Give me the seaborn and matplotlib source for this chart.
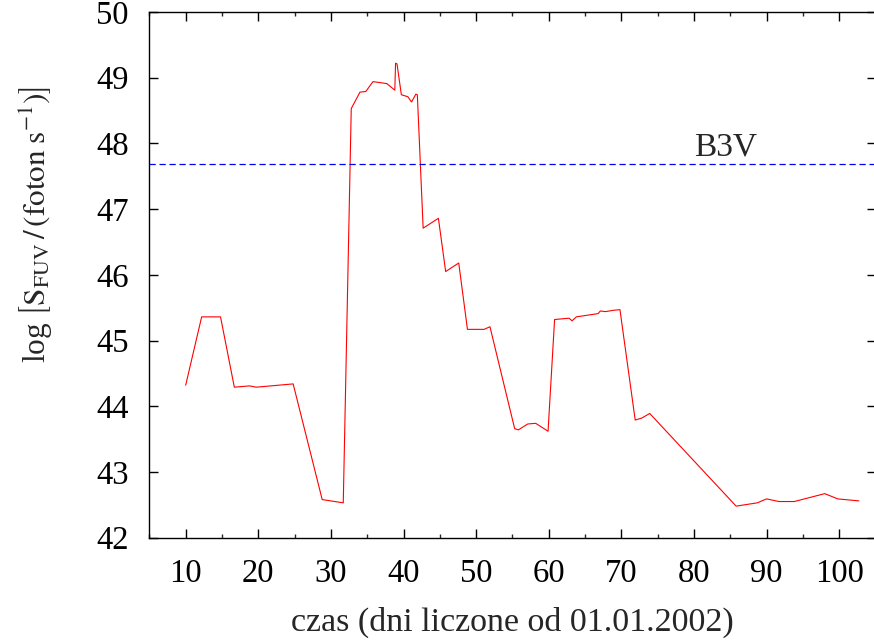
import matplotlib
matplotlib.use("Agg")
import matplotlib.pyplot as plt
from matplotlib.ticker import MultipleLocator
import seaborn as sns
import pandas as pd

# Observation days (counted from 01.01.2002) and log of FUV photon flux
days = [10.0, 12.2, 14.8, 16.7, 18.8, 19.7, 24.8, 28.8, 31.7,
        32.8, 34.0, 34.8, 35.8, 37.7, 38.8, 38.9, 39.1, 39.7, 40.6, 41.1, 41.7, 41.9,
        42.7, 44.8, 45.8, 47.6, 48.8, 51.1, 51.9,
        55.3, 55.8, 57.1, 58.2, 59.9,
        60.8, 62.8, 63.2, 63.8, 66.8, 67.1, 67.8, 68.9, 69.8,
        71.9, 72.8, 73.9,
        85.8, 88.7, 90.0, 91.7, 93.8, 98.0, 99.8, 102.7]
log_s_fuv = [44.32, 45.36, 45.36, 44.29, 44.31, 44.29, 44.34, 42.58, 42.53,
             48.53, 48.78, 48.79, 48.94, 48.91, 48.81, 49.22, 49.21, 48.74, 48.71, 48.63, 48.75, 48.74,
             46.71, 46.86, 46.05, 46.18, 45.17, 45.17, 45.21,
             43.66, 43.64, 43.73, 43.74, 43.62,
             45.32, 45.34, 45.30, 45.36, 45.41, 45.45, 45.44, 45.46, 45.47,
             43.79, 43.82, 43.89,
             42.48, 42.53, 42.59, 42.55, 42.55, 42.67, 42.59, 42.56]

# Reference level for a B3V star
ref_label = "B3V"
ref_level = 47.68

x_ticks = [10, 20, 30, 40, 50, 60, 70, 80, 90, 100]
y_ticks = [42, 43, 44, 45, 46, 47, 48, 49, 50]

sns.set_style("ticks")
plt.rcParams["font.family"] = ["Liberation Serif", "DejaVu Serif"]
plt.rcParams["mathtext.fontset"] = "stix"

df = pd.DataFrame({"dzien": days, "logS": log_s_fuv})

fig = plt.figure(figsize=(8.74, 6.43), dpi=100)
ax = fig.add_axes([0.1709, 0.1638, 0.8309, 0.8176])

sns.lineplot(data=df, x="dzien", y="logS", sort=False, estimator=None,
             color="#ff0000", linewidth=0.8, ax=ax)
ax.axhline(ref_level, color="#0000ff", linewidth=0.9, linestyle=(0, (5, 3)))
ax.text(80.0, ref_level + 0.14, ref_label, fontsize=24, ha="left", va="baseline")

ax.set_xlim(5, 105)
ax.set_ylim(42, 50)
ax.set_xticks(x_ticks)
ax.set_yticks(y_ticks)
ax.xaxis.set_minor_locator(MultipleLocator(5))

for s in ax.spines.values():
    s.set_visible(True)
    s.set_linewidth(1.0)
    s.set_color("black")

ax.tick_params(axis="both", which="major", direction="in", length=6.3, width=1.0,
               top=True, right=True, labelsize=23.5, colors="black")
ax.tick_params(axis="x", which="major", pad=15)
ax.tick_params(axis="y", which="major", pad=15)
ax.tick_params(axis="x", which="minor", direction="in", length=3.2, width=1.0,
               top=True, bottom=True)

ax.set_xlabel("czas (dni liczone od 01.01.2002)", fontsize=24.5, labelpad=13)
ax.set_ylabel(r"log $\left[\mathrm{S_{FUV}}\,/\,(\mathrm{foton\;s^{-1}})\right]$",
              fontsize=22.5)
ax.yaxis.set_label_coords(-0.132, 0.595)

fig.savefig("out.png", dpi=100, facecolor="white")
